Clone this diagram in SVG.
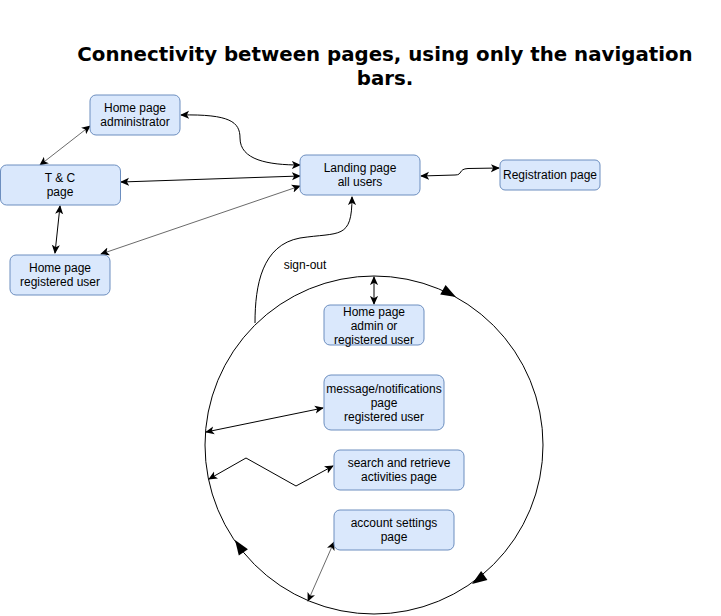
<svg xmlns="http://www.w3.org/2000/svg" width="721" height="616" viewBox="0 0 721 616">
<style>
.box{fill:#dae8fc;stroke:#6c8ebf;stroke-width:1}
.lbl{font-family:"Liberation Sans",Arial,sans-serif;font-size:12px;fill:#000;text-anchor:middle}
.e{fill:none;stroke:#000;stroke-width:1}
.t{fill:none;stroke:#444;stroke-width:0.8}
.title{font-family:"DejaVu Sans",sans-serif;font-weight:bold;font-size:19.8px;text-anchor:middle;fill:#000}
</style>
<defs>
<marker id="a" viewBox="0 0 10 10" refX="9" refY="5" markerWidth="9" markerHeight="9" markerUnits="userSpaceOnUse" orient="auto-start-reverse">
<path d="M0,0.5 L10,5 L0,9.5 L2.5,5 z" fill="#000"/>
</marker>
</defs>
<rect width="721" height="616" fill="#fff"/>
<text class="title" x="385" y="61">Connectivity between pages, using only the navigation</text>
<text class="title" x="385" y="85">bars.</text>

<g id="cycle">
<circle cx="374" cy="445" r="169" fill="none" stroke="#000" stroke-width="1"/>
<polygon points="0,0 -15,-5.5 -15,5.5" fill="#000" transform="translate(456,297) rotate(29)"/>
<polygon points="0,0 -15,-5.5 -15,5.5" fill="#000" transform="translate(472,584) rotate(145)"/>
<polygon points="0,0 -15,-5.5 -15,5.5" fill="#000" transform="translate(235,540) rotate(-124)"/>
</g>

<g id="connectors">
<path class="t" d="M40,165 L90,126" marker-start="url(#a)" marker-end="url(#a)"/>
<path class="e" d="M60,206 L55,253" marker-start="url(#a)" marker-end="url(#a)"/>
<path class="e" d="M121,182 L300,176" marker-start="url(#a)" marker-end="url(#a)"/>
<path class="e" d="M181,115 C230,114 240,122 240,138 C240,160 268,165 300,165" marker-start="url(#a)" marker-end="url(#a)"/>
<path class="t" d="M101,254 L300,186" marker-start="url(#a)" marker-end="url(#a)"/>
<path class="e" d="M421,176 L455,175 C463,175 458,169 468,168.5 L499,168" marker-start="url(#a)" marker-end="url(#a)"/>
<path class="e" d="M374,277 L374,304" marker-start="url(#a)" marker-end="url(#a)"/>
<path class="e" d="M206,432 L323,408" marker-start="url(#a)" marker-end="url(#a)"/>
<path class="e" d="M209,479 L246,458 L296,486 L333,466" marker-start="url(#a)" marker-end="url(#a)"/>
<path class="t" d="M308,601 L334,542" marker-start="url(#a)" marker-end="url(#a)"/>
<path class="e" d="M255,323 C255,285 262,245 300,238 C340,232 352,240 352,197" marker-end="url(#a)"/>
<text class="lbl" x="305" y="269">sign-out</text>
</g>

<g id="home-admin">
<rect class="box" x="90" y="95" width="90" height="40" rx="6"/>
<text class="lbl" x="135" y="112">Home page</text>
<text class="lbl" x="135" y="126">administrator</text>
</g>
<g id="tc">
<rect class="box" x="0.5" y="165" width="120" height="40" rx="6"/>
<text class="lbl" x="60" y="182">T &amp; C</text>
<text class="lbl" x="60" y="196">page</text>
</g>
<g id="home-registered">
<rect class="box" x="10" y="255" width="100" height="40" rx="6"/>
<text class="lbl" x="60" y="272">Home page</text>
<text class="lbl" x="60" y="286">registered user</text>
</g>
<g id="landing">
<rect class="box" x="300" y="155" width="120" height="40" rx="6"/>
<text class="lbl" x="360" y="172">Landing page</text>
<text class="lbl" x="360" y="186">all users</text>
</g>
<g id="registration">
<rect class="box" x="500" y="160" width="100" height="30" rx="5"/>
<text class="lbl" x="550" y="179">Registration page</text>
</g>
<g id="home-admin-or-registered">
<rect class="box" x="324" y="305" width="100" height="40" rx="6"/>
<text class="lbl" x="374" y="316">Home page</text>
<text class="lbl" x="374" y="330">admin or</text>
<text class="lbl" x="374" y="344">registered user</text>
</g>
<g id="messages">
<rect class="box" x="324" y="375" width="120" height="55" rx="7"/>
<text class="lbl" x="384" y="393">message/notifications</text>
<text class="lbl" x="384" y="407">page</text>
<text class="lbl" x="384" y="421">registered user</text>
</g>
<g id="search">
<rect class="box" x="334" y="450" width="130" height="40" rx="6"/>
<text class="lbl" x="399" y="467">search and retrieve</text>
<text class="lbl" x="399" y="481">activities page</text>
</g>
<g id="account">
<rect class="box" x="334" y="510" width="120" height="40" rx="6"/>
<text class="lbl" x="394" y="527">account settings</text>
<text class="lbl" x="394" y="541">page</text>
</g>
</svg>
